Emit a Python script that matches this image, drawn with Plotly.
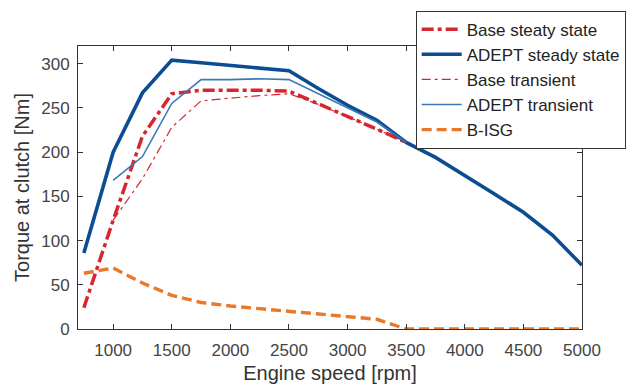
import plotly.graph_objects as go

rpm_full = [750, 1000, 1250, 1500, 1750, 2000, 2250, 2500, 2750, 3000, 3250, 3500, 3750, 4000, 4250, 4500, 4750, 5000]

base_ss_x = [750, 1000, 1250, 1500, 1750, 2000, 2250, 2500, 2750, 3000, 3250, 3500]
base_ss_y = [24, 123, 218, 266, 270, 270, 270, 269, 255, 240, 226, 211]

adept_ss_x = rpm_full
adept_ss_y = [86, 200, 267, 304, 301, 298, 295, 292, 272, 253, 236, 211, 194, 174, 153, 132, 106, 72]

base_tr_x = [1000, 1250, 1500, 1750, 2000, 2250, 2500, 2750, 3000, 3250, 3500]
base_tr_y = [123, 170, 228, 258, 261, 264, 266, 254, 240, 226, 211]

adept_tr_x = [1000, 1250, 1500, 1750, 2000, 2250, 2500, 2750, 3000, 3250, 3500]
adept_tr_y = [168, 195, 255, 282, 282, 283, 282, 266, 250, 234, 211]

bisg_x = rpm_full
bisg_y = [63, 69, 52, 38, 30, 26, 23, 20, 17, 14, 11, 0, 0, 0, 0, 0, 0, 0]

x_ticks = [1000, 1500, 2000, 2500, 3000, 3500, 4000, 4500, 5000]
y_ticks = [0, 50, 100, 150, 200, 250, 300]

RED = "#d7262e"
DBLUE = "#0c4d92"
LBLUE = "#3b78b8"
ORANGE = "#e8782a"
FONT = "Liberation Sans, Arial, sans-serif"

fig = go.Figure()
fig.add_trace(go.Scatter(x=base_ss_x, y=base_ss_y, mode="lines", name="Base steaty state",
                         line=dict(color=RED, width=3.5, dash="12px,4px,4px,4px")))
fig.add_trace(go.Scatter(x=adept_ss_x, y=adept_ss_y, mode="lines", name="ADEPT steady state",
                         line=dict(color=DBLUE, width=3.6)))
fig.add_trace(go.Scatter(x=base_tr_x, y=base_tr_y, mode="lines", name="Base transient",
                         line=dict(color=RED, width=1.2, dash="9px,4px,3px,4px")))
fig.add_trace(go.Scatter(x=adept_tr_x, y=adept_tr_y, mode="lines", name="ADEPT transient",
                         line=dict(color=LBLUE, width=1.6)))
fig.add_trace(go.Scatter(x=bisg_x, y=bisg_y, mode="lines", name="B-ISG",
                         line=dict(color=ORANGE, width=3.4, dash="10px,5px")))

axis_common = dict(showgrid=False, zeroline=False, showline=True, linecolor="#333333", linewidth=1,
                   mirror="ticks", ticks="inside", ticklen=5, tickcolor="#333333",
                   tickfont=dict(family=FONT, size=17, color="#444444"))

fig.update_xaxes(range=[700, 5000], tickvals=x_ticks, ticklabelstandoff=6,
                 title=dict(text="Engine speed [rpm]", font=dict(family=FONT, size=20, color="#333333"), standoff=6),
                 **axis_common)
fig.update_yaxes(range=[0, 320], tickvals=y_ticks, ticklabelstandoff=4,
                 title=dict(text="Torque at clutch [Nm]", font=dict(family=FONT, size=20, color="#333333"), standoff=6),
                 **axis_common)

fig.update_layout(
    width=626, height=392,
    margin=dict(l=78, r=44, t=46, b=63, autoexpand=False),
    paper_bgcolor="white", plot_bgcolor="white",
    showlegend=True,
    legend=dict(x=0.67, xanchor="left", y=1.125, yanchor="top",
                bgcolor="white", bordercolor="#333333", borderwidth=1,
                font=dict(family=FONT, size=17, color="#222222"),
                tracegroupgap=0, itemwidth=40),
)

fig.write_html("out.html")
